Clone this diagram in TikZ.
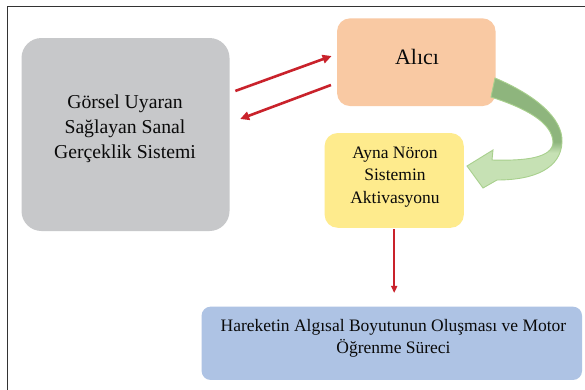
\documentclass[tikz,border=0pt]{standalone}
\usepackage{fontspec}
\setmainfont{Liberation Serif}
\usetikzlibrary{arrows.meta,calc}
\definecolor{grayfill}{HTML}{C7C8CA}
\definecolor{peach}{HTML}{F9C9A3}
\definecolor{yel}{HTML}{FEEB8D}
\definecolor{bluef}{HTML}{AEC3E4}
\definecolor{redar}{HTML}{C9222B}
\definecolor{darkg}{HTML}{8EB57D}
\definecolor{lightg}{HTML}{C6E1B4}
\definecolor{greenline}{HTML}{A8D08D}
\definecolor{txt}{HTML}{0A0A0A}
\pgfdeclareverticalshading{greenarrow}{100bp}{color(0bp)=(lightg); color(41bp)=(lightg); color(46bp)=(darkg); color(100bp)=(darkg)}
\begin{document}
\begin{tikzpicture}[x=1pt,y=-1pt,
  box/.style={rounded corners=#1, inner sep=0pt, draw=none},
  lbl/.style={inner sep=0pt, align=center, text=txt},
  redarrow/.style={draw=redar, line width=2.6pt, -{Triangle[length=9pt,width=8.5pt]}}]
\useasboundingbox (0,0) rectangle (585,389);
\fill[white] (0,0) rectangle (585,389);
\draw[line width=1.4pt, black!80] (7.5,400) -- (7.5,6.5) -- (600,6.5);

% boxes
\node[box=20pt, fill=grayfill, minimum width=208pt, minimum height=193pt] (vr) at (125.5,134.5) {};
\node[lbl, font=\fontsize{19.7}{25}\selectfont] (vrtext) at (125,129) {Görsel Uyaran\\Sağlayan Sanal\\Gerçeklik Sistemi};

\node[box=13pt, fill=peach, minimum width=158.5pt, minimum height=87.7pt] (alici) at (416.3,62.2) {};
\node[lbl, font=\fontsize{22}{26}\selectfont] (alicitext) at (417,57) {Alıcı};

\node[box=13pt, fill=yel, minimum width=139.2pt, minimum height=94.7pt] (ayna) at (394.2,180.4) {};
\node[lbl, font=\fontsize{17.5}{22.5}\selectfont] (aynatext) at (395,177) {Ayna Nöron\\Sistemin\\Aktivasyonu};

\node[box=9pt, fill=bluef, minimum width=380.4pt, minimum height=73.3pt] (hareket) at (391.8,343.3) {};
\node[lbl, font=\fontsize{17.5}{21.7}\selectfont] (harekettext) at (393.5,338.5) {Hareketin Algısal Boyutunun Oluşması ve Motor\\Öğrenme Süreci};

% red arrows
\draw[redarrow, shorten <=6pt, shorten >=5.6pt] (vr.east |- 0,93) -- (alici.west |- 0,54.1);
\draw[redarrow, shorten <=6.3pt, shorten >=11.2pt] (alici.west |- 0,82.8) -- (vr.east |- 0,122.9);
\draw[draw=redar, line width=1.8pt, -{Triangle[length=7pt,width=6pt]}, shorten <=1.5pt, shorten >=13.5pt] (ayna.south) -- (ayna.south |- hareket.north);

% green curved arrow
\path[shading=greenarrow, draw=greenline, line width=0.9pt]
  (495,78) .. controls (535,95) and (563,118) .. (562,142)
  .. controls (561,168) and (535,180) .. (497,180)
  -- (483,188) -- (467,166) -- (493,150) -- (492,160)
  .. controls (525,161) and (553,158) .. (553,142)
  .. controls (552,122) and (525,108) .. (491,97) -- cycle;
\end{tikzpicture}
\end{document}
